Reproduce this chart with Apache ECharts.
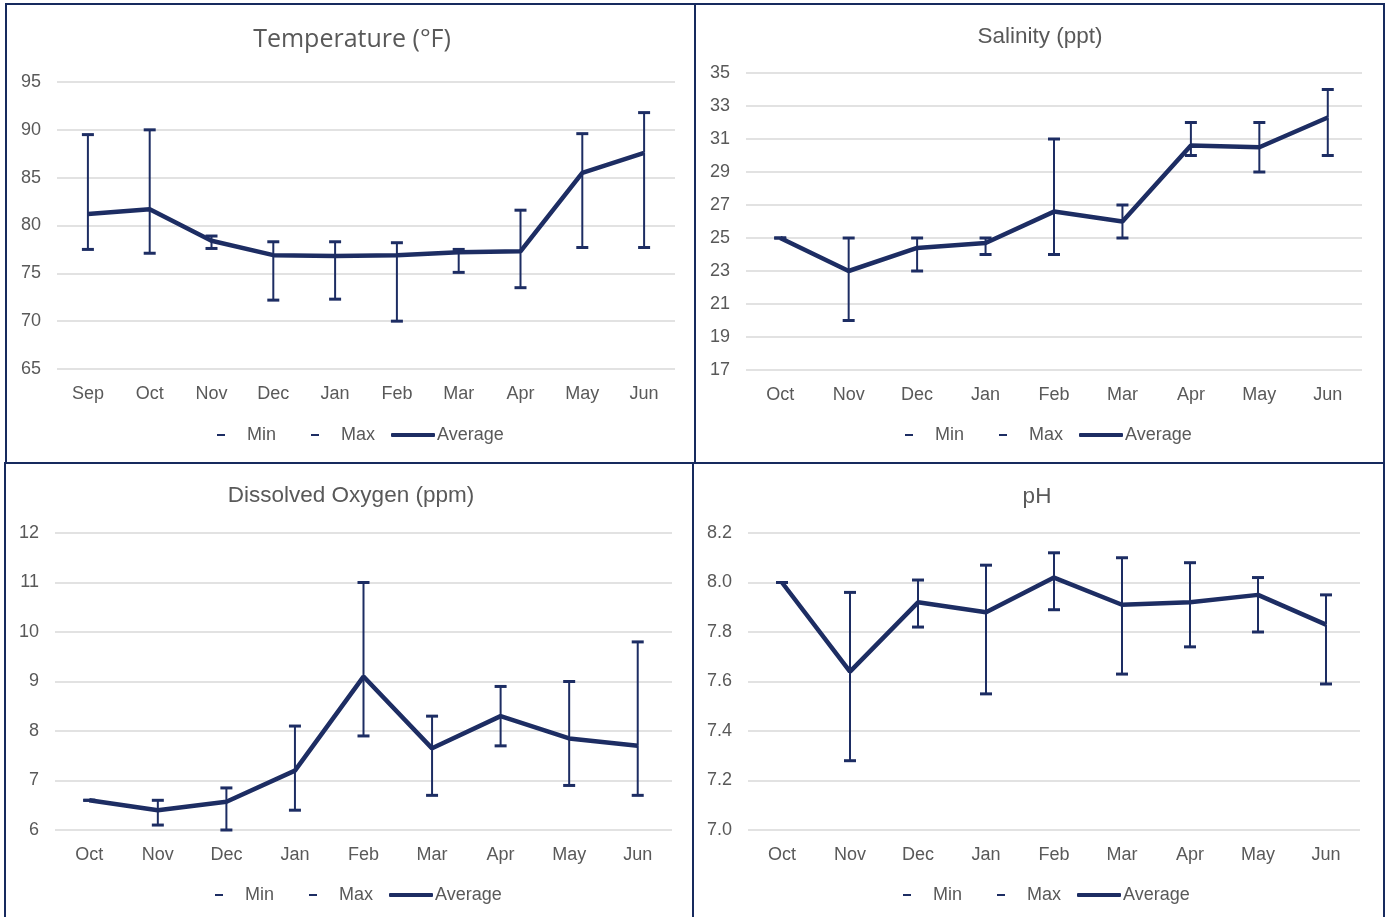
<!DOCTYPE html>
<html>
<head>
<meta charset="utf-8">
<script src="https://cdn.jsdelivr.net/npm/echarts@6/dist/echarts.min.js"></script>
<style>
  html, body { margin: 0; padding: 0; background: #ffffff; }
  #chart { width: 1386px; height: 917px; }
</style>
</head>
<body>
<div id="chart"></div>
<script>
// ---------- DATA ----------
const tempMonths = ['Sep','Oct','Nov','Dec','Jan','Feb','Mar','Apr','May','Jun'];
const tempAvg = [81.2, 81.7, 78.4, 76.9, 76.8, 76.9, 77.2, 77.3, 85.5, 87.6];
const tempMin = [77.5, 77.1, 77.6, 72.2, 72.3, 70.0, 75.1, 73.5, 77.7, 77.7];
const tempMax = [89.5, 90.0, 78.9, 78.3, 78.3, 78.2, 77.5, 81.6, 89.6, 91.8];

const salMonths = ['Oct','Nov','Dec','Jan','Feb','Mar','Apr','May','Jun'];
const salAvg = [25.0, 23.0, 24.4, 24.7, 26.6, 26.0, 30.6, 30.5, 32.3];
const salMin = [25, 20, 23, 24, 24, 25, 30, 29, 30];
const salMax = [25, 25, 25, 25, 31, 27, 32, 32, 34];

const doMonths = ['Oct','Nov','Dec','Jan','Feb','Mar','Apr','May','Jun'];
const doAvg = [6.6, 6.4, 6.57, 7.2, 9.1, 7.65, 8.3, 7.85, 7.7];
const doMin = [6.6, 6.1, 6.0, 6.4, 7.9, 6.7, 7.7, 6.9, 6.7];
const doMax = [6.6, 6.6, 6.85, 8.1, 11.0, 8.3, 8.9, 9.0, 9.8];

const phMonths = ['Oct','Nov','Dec','Jan','Feb','Mar','Apr','May','Jun'];
const phAvg = [8.0, 7.64, 7.92, 7.88, 8.02, 7.91, 7.92, 7.95, 7.83];
const phMin = [8.0, 7.28, 7.82, 7.55, 7.89, 7.63, 7.74, 7.80, 7.59];
const phMax = [8.0, 7.96, 8.01, 8.07, 8.12, 8.10, 8.08, 8.02, 7.95];

const titles = ['Temperature (°F)', 'Salinity (ppt)', 'Dissolved Oxygen (ppm)', 'pH'];

// ---------- STYLE ----------
const NAVY = '#1d2d63';
const BORDER = '#172a5e';
const TXT = '#595959';
const GRIDC = '#d9d9d9';
const FONT = "'Liberation Sans', Arial, sans-serif";

const panels = [
  { months: tempMonths, avg: tempAvg, min: tempMin, max: tempMax, ymin: 65, ymax: 95, step: 5, dec: 0,
    grid: { left: 57, top: 82, width: 618, height: 287 }, titleX: 352, titleY: 27, titleSize: 25, titleFont: "'Open Sans', sans-serif",
    legY: 426, legX: [217, 311, 391] },
  { months: salMonths, avg: salAvg, min: salMin, max: salMax, ymin: 17, ymax: 35, step: 2, dec: 0,
    grid: { left: 746, top: 73, width: 616, height: 297 }, titleX: 1040, titleY: 25, titleSize: 22.5, titleFont: FONT,
    legY: 426, legX: [905, 999, 1079] },
  { months: doMonths, avg: doAvg, min: doMin, max: doMax, ymin: 6, ymax: 12, step: 1, dec: 0,
    grid: { left: 55, top: 533, width: 617, height: 297 }, titleX: 351, titleY: 484, titleSize: 22.5, titleFont: FONT,
    legY: 886, legX: [215, 309, 389] },
  { months: phMonths, avg: phAvg, min: phMin, max: phMax, ymin: 7.0, ymax: 8.2, step: 0.2, dec: 1,
    grid: { left: 748, top: 533, width: 612, height: 297 }, titleX: 1037, titleY: 485, titleSize: 22.5, titleFont: FONT,
    legY: 886, legX: [903, 997, 1077] }
];

function errRender(params, api) {
  const i = api.value(0), a = api.value(1), b = api.value(2);
  const p1 = api.coord([i, a]);
  const p2 = api.coord([i, b]);
  const hw = 6;
  return {
    type: 'group',
    children: [
      { type: 'line', shape: { x1: p1[0], y1: p1[1], x2: p2[0], y2: p2[1] }, style: { stroke: NAVY, lineWidth: 2 } },
      { type: 'line', shape: { x1: p2[0] - hw, y1: p2[1], x2: p2[0] + hw, y2: p2[1] }, style: { stroke: NAVY, lineWidth: 3 } }
    ]
  };
}

const option = {
  backgroundColor: '#ffffff',
  animation: false,
  title: [], grid: [], xAxis: [], yAxis: [], legend: [], series: [],
  graphic: [
    { type: 'rect', shape: { x: 6, y: 4, width: 689, height: 459 }, style: { fill: 'none', stroke: BORDER, lineWidth: 2 }, z: 100 },
    { type: 'rect', shape: { x: 695, y: 4, width: 689, height: 459 }, style: { fill: 'none', stroke: BORDER, lineWidth: 2 }, z: 100 },
    { type: 'rect', shape: { x: 5, y: 463, width: 688, height: 470 }, style: { fill: 'none', stroke: BORDER, lineWidth: 2 }, z: 100 },
    { type: 'rect', shape: { x: 693, y: 463, width: 691, height: 470 }, style: { fill: 'none', stroke: BORDER, lineWidth: 2 }, z: 100 }
  ]
};

panels.forEach((p, k) => {
  option.title.push({
    text: titles[k], left: p.titleX, top: p.titleY, textAlign: 'center', padding: 0,
    textStyle: { color: TXT, fontSize: p.titleSize, fontWeight: 'normal', fontFamily: p.titleFont }
  });
  option.grid.push(Object.assign({ containLabel: false }, p.grid));
  option.xAxis.push({
    type: 'category', gridIndex: k, data: p.months, boundaryGap: true,
    axisLine: { show: false }, axisTick: { show: false },
    axisLabel: { color: TXT, fontSize: 18, fontFamily: FONT, margin: 16, interval: 0 }
  });
  option.yAxis.push({
    type: 'value', gridIndex: k, min: p.ymin, max: p.ymax, interval: p.step,
    axisLine: { show: false }, axisTick: { show: false },
    splitLine: { lineStyle: { color: GRIDC, width: 1.5 } },
    axisLabel: { color: TXT, fontSize: 18, fontFamily: FONT, margin: 16,
      formatter: (v) => Number(v).toFixed(p.dec) }
  });
  const lt = { color: TXT, fontSize: 18, fontFamily: FONT };
  option.legend.push(
    { data: ['Min'], left: p.legX[0], top: p.legY, padding: 0, selectedMode: false,
      icon: 'rect', itemWidth: 8, itemHeight: 2, textStyle: Object.assign({ padding: [0, 0, 0, 17] }, lt) },
    { data: ['Max'], left: p.legX[1], top: p.legY, padding: 0, selectedMode: false,
      icon: 'rect', itemWidth: 8, itemHeight: 2, textStyle: Object.assign({ padding: [0, 0, 0, 17] }, lt) },
    { data: ['Average'], left: p.legX[2], top: p.legY, padding: 0, selectedMode: false,
      icon: 'roundRect', itemWidth: 44, itemHeight: 4, itemGap: 0, textStyle: Object.assign({ padding: [0, 0, 0, -3] }, lt) }
  );
  option.series.push(
    {
      name: 'Min', type: 'custom', xAxisIndex: k, yAxisIndex: k, renderItem: errRender,
      itemStyle: { color: NAVY }, encode: { x: 0, y: [1, 2] },
      data: p.months.map((m, i) => [i, p.avg[i], p.min[i]]), z: 3
    },
    {
      name: 'Max', type: 'custom', xAxisIndex: k, yAxisIndex: k, renderItem: errRender,
      itemStyle: { color: NAVY }, encode: { x: 0, y: [1, 2] },
      data: p.months.map((m, i) => [i, p.avg[i], p.max[i]]), z: 3
    },
    {
      name: 'Average', type: 'line', xAxisIndex: k, yAxisIndex: k, data: p.avg,
      symbol: 'none', lineStyle: { color: NAVY, width: 4.5 }, itemStyle: { color: NAVY }, z: 2
    }
  );
});

const chart = echarts.init(document.getElementById('chart'), null, { renderer: 'canvas' });
chart.setOption(option);
</script>
</body>
</html>
